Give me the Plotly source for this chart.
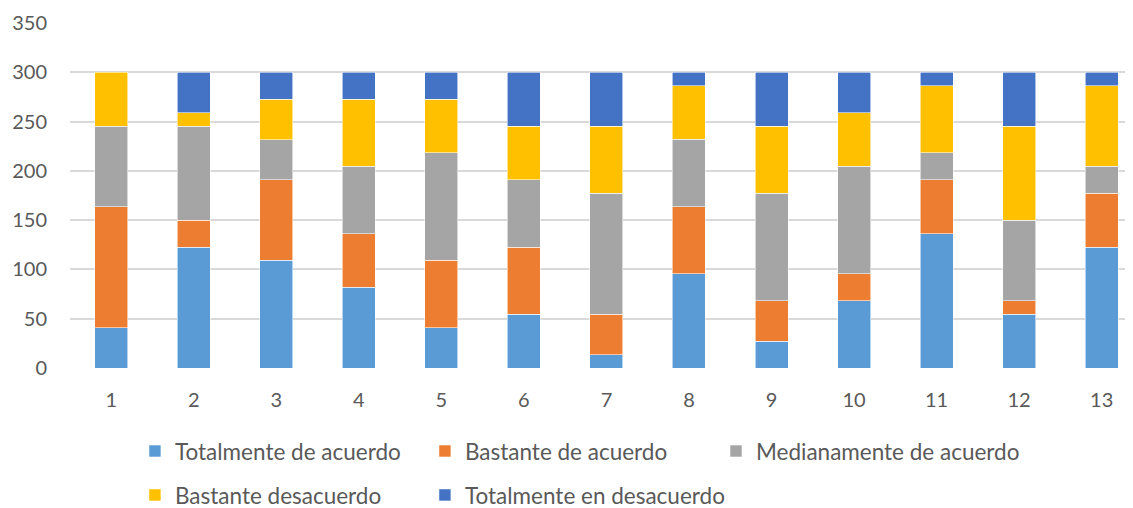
import plotly.graph_objects as go

categorias = [str(i) for i in range(1, 14)]

# valores (cada columna suma 300)
totalmente_acuerdo = [40.9, 122.7, 109.1, 81.8, 40.9, 54.5, 13.6, 95.5, 27.3, 68.2, 136.4, 54.5, 122.7]
bastante_acuerdo = [122.7, 27.3, 81.8, 54.5, 68.2, 68.2, 40.9, 68.2, 40.9, 27.3, 54.5, 13.6, 54.5]
medianamente_acuerdo = [81.8, 95.5, 40.9, 68.2, 109.1, 68.2, 122.7, 68.2, 109.1, 109.1, 27.3, 81.8, 27.3]
bastante_desacuerdo = [54.5, 13.6, 40.9, 68.2, 54.5, 54.5, 68.2, 54.5, 68.2, 54.5, 68.2, 95.5, 81.8]
totalmente_desacuerdo = [0, 40.9, 27.3, 27.3, 27.3, 54.5, 54.5, 13.6, 54.5, 40.9, 13.6, 54.5, 13.6]

y_ticks = [0, 50, 100, 150, 200, 250, 300, 350]

series = [
    ("Totalmente de acuerdo", totalmente_acuerdo, "#5B9BD5", "legend"),
    ("Bastante de acuerdo", bastante_acuerdo, "#ED7D31", "legend2"),
    ("Medianamente de acuerdo", medianamente_acuerdo, "#A5A5A5", "legend3"),
    ("Bastante desacuerdo", bastante_desacuerdo, "#FFC000", "legend4"),
    ("Totalmente en desacuerdo", totalmente_desacuerdo, "#4472C4", "legend5"),
]

fig = go.Figure()
for nombre, valores, color, leyenda in series:
    fig.add_trace(
        go.Bar(
            x=categorias,
            y=[v if v > 0 else None for v in valores],
            name=nombre,
            marker=dict(color=color, line=dict(color="rgba(255,255,255,0.7)", width=0.8)),
            legend=leyenda,
        )
    )

texto = dict(family="Lato, Arial, sans-serif", size=20, color="#595959")
texto_leyenda = dict(family="Lato, Arial, sans-serif", size=22.5, color="#595959")
fila1 = -0.2417
fila2 = -0.369
col = [0.0611, 0.3339, 0.6077]


def leyenda(x, y):
    return dict(
        x=x, y=y, xanchor="left", yanchor="middle",
        orientation="h", font=texto_leyenda, bgcolor="rgba(0,0,0,0)",
        borderwidth=0,
    )


# la página deja 8 px de margen al cuerpo: la figura empieza en (8, 8)
fig.update_layout(
    barmode="stack",
    bargap=0.6,
    width=1125,
    height=500,
    paper_bgcolor="white",
    plot_bgcolor="white",
    font=texto,
    margin=dict(l=62, r=0, t=15, b=140, autoexpand=False),
    showlegend=True,
    legend=leyenda(col[0], fila1),
    legend2=leyenda(col[1], fila1),
    legend3=leyenda(col[2], fila1),
    legend4=leyenda(col[0], fila2),
    legend5=leyenda(col[1], fila2),
    xaxis=dict(
        type="category",
        range=[-0.5, 12.38],
        showgrid=False,
        showline=False,
        zeroline=False,
        ticks="",
        ticklabelstandoff=18,
        tickfont=texto,
    ),
    yaxis=dict(
        range=[0, 350],
        tickvals=y_ticks,
        showgrid=True,
        gridcolor="#D9D9D9",
        gridwidth=1.5,
        zeroline=False,
        showline=False,
        ticks="",
        ticklabelstandoff=22,
        tickfont=texto,
    ),
)

fig.write_html("out.html")
